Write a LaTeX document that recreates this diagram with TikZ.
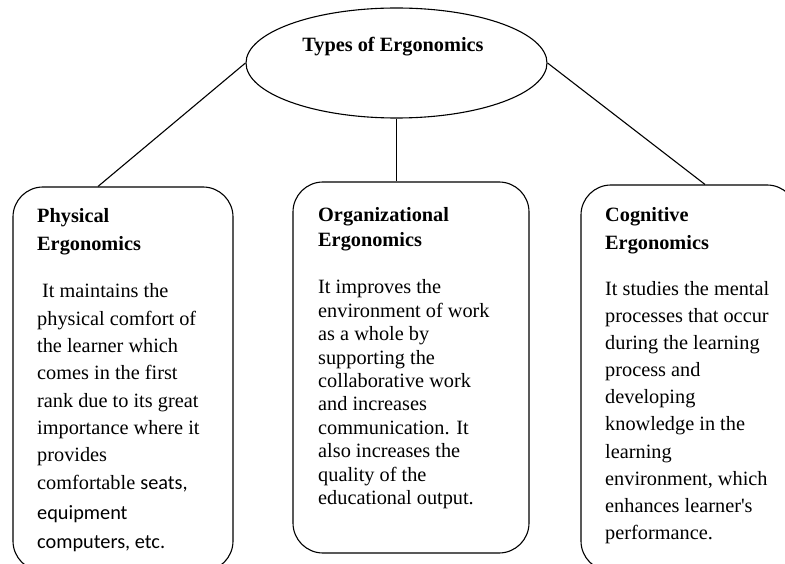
\documentclass[tikz,border=0pt]{standalone}
\usepackage{fontspec}
\setmainfont{Liberation Serif}[Ligatures=TeXOff]
\newfontfamily\calfont{Carlito}
\usetikzlibrary{shapes.geometric}
\begin{document}
\begin{tikzpicture}[x=1pt,y=-1pt,
  box/.style={draw, line width=1.1pt, rounded corners=30pt, inner sep=0pt},
  txt/.style={anchor=base west, inner sep=0pt, align=left},
  link/.style={line width=1.1pt}]
\useasboundingbox (0,0) rectangle (785,564);
\clip (0,0) rectangle (785,564);
% top ellipse
\node[ellipse, draw, line width=1.1pt, minimum width=301pt, minimum height=110pt, inner sep=0pt] (ell) at (396.5,63) {};
\node[anchor=base, inner sep=0pt, font=\bfseries\fontsize{20.3}{24}\selectfont] (title) at (393,52) {Types of Ergonomics};
% boxes
\node[box, minimum width=220pt, minimum height=384pt] (phys) at (123,379) {};
\node[box, minimum width=236pt, minimum height=371pt] (org) at (411,367.5) {};
\node[box, minimum width=216pt, minimum height=386pt] (cog) at (689,378) {};
% connectors
\draw[link] (ell.west) -- ([xshift=-25pt]phys.north);
\draw[link] (ell.south) -- (ell.south |- org.north);
\draw[link] (ell.east) -- ([xshift=16pt]cog.north);
% left texts
\node[txt, font=\bfseries\fontsize{20.3}{28}\selectfont] (physh) at (37,223)
  {\begin{tabular}[t]{@{}l@{}}Physical\\Ergonomics\end{tabular}};
\node[txt, font=\fontsize{20.3}{27.3}\selectfont] (physb) at (37,298)
  {\begin{tabular}[t]{@{}l@{}}\hspace{5pt}It maintains the\\physical comfort of\\the learner which\\comes in the first\\rank due to its great\\importance where it\\provides\\comfortable {\calfont seats,}\\[3pt]{\calfont equipment}\\[2pt]{\calfont computers, etc.}\end{tabular}};
% middle texts
\node[txt, font=\bfseries\fontsize{20.3}{25}\selectfont] (orgh) at (318,222)
  {\begin{tabular}[t]{@{}l@{}}Organizational\\Ergonomics\end{tabular}};
\node[txt, font=\fontsize{20.3}{23.4}\selectfont] (orgb) at (318,294)
  {\begin{tabular}[t]{@{}l@{}}It improves the\\environment of work\\as a whole by\\supporting the\\collaborative work\\and increases\\communication. It\\also increases the\\quality of the\\educational output.\end{tabular}};
% right texts
\node[txt, font=\bfseries\fontsize{20.3}{28}\selectfont] (cogh) at (605,222)
  {\begin{tabular}[t]{@{}l@{}}Cognitive\\Ergonomics\end{tabular}};
\node[txt, font=\fontsize{20.3}{27.2}\selectfont] (cogb) at (605,295)
  {\begin{tabular}[t]{@{}l@{}}It studies the mental\\processes that occur\\during the learning\\process and\\developing\\knowledge in the\\learning\\environment, which\\enhances learner's\\performance.\end{tabular}};
\end{tikzpicture}
\end{document}
